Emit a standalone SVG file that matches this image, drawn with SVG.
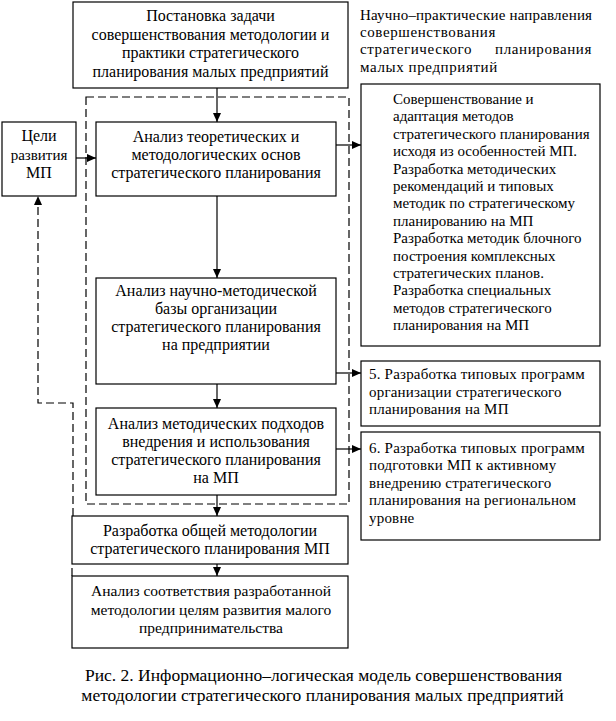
<svg xmlns="http://www.w3.org/2000/svg" width="616" height="721" viewBox="0 0 616 721">
<style>
.b{fill:#fff;stroke:#000;stroke-width:1.2}
.t{font-family:'Liberation Serif','Times New Roman',serif;font-size:15px;fill:#000}
.m{font-size:16px}
.h{letter-spacing:0.6px}
.c{text-anchor:middle}
.l{stroke:#000;stroke-width:1.2;fill:none}
.d{stroke:#000;stroke-width:1.2;fill:none;stroke-dasharray:8,4}
</style>
<defs>
<marker id="ah" markerWidth="9" markerHeight="8" refX="9" refY="4" orient="auto" markerUnits="userSpaceOnUse">
<path d="M0,0 L9,4 L0,8 Z" fill="#000"/>
</marker>
</defs>
<rect width="616" height="721" fill="#fff"/>
<g id="connectors">
<rect class="d" x="86" y="97" width="263" height="407"/>
<path class="d" d="M73,516 L73,403 L38,403 L38,200"/>
<path d="M38,196 L34,205 L42,205 Z" fill="#000"/>
<line class="l" x1="217" y1="88" x2="217" y2="122" marker-end="url(#ah)"/>
<line class="l" x1="76" y1="158" x2="96" y2="158" marker-end="url(#ah)"/>
<line class="l" x1="336" y1="145" x2="361" y2="145" marker-end="url(#ah)"/>
<line class="l" x1="217" y1="196" x2="217" y2="278" marker-end="url(#ah)"/>
<line class="l" x1="336" y1="373" x2="361" y2="373" marker-end="url(#ah)"/>
<line class="l" x1="217" y1="384" x2="217" y2="408" marker-end="url(#ah)"/>
<line class="l" x1="336" y1="449" x2="361" y2="449" marker-end="url(#ah)"/>
<line class="l" x1="217" y1="495" x2="217" y2="516" marker-end="url(#ah)"/>
<line class="l" x1="217" y1="564" x2="217" y2="576" marker-end="url(#ah)"/>
<line class="l" x1="72" y1="568" x2="72" y2="576"/>
</g>
<g id="n-top">
<rect class="b" x="73" y="2" width="275" height="86"/>
<text class="t m c" x="210.5" y="21">Постановка задачи</text>
<text class="t m c" x="210.5" y="39.5">совершенствования методологии и</text>
<text class="t m c" x="210.5" y="58">практики стратегического</text>
<text class="t m c" x="210.5" y="76.5">планирования малых предприятий</text>
</g>
<g id="n-heading">
<text class="t" x="360" y="20" textLength="232" lengthAdjust="spacing">Научно–практические направления</text>
<text class="t h" x="360" y="37">совершенствования</text>
<text class="t h" x="360" y="54">стратегического</text>
<text class="t h" x="592" y="54" text-anchor="end">планирования</text>
<text class="t h" x="360" y="72">малых предприятий</text>
</g>
<g id="n-goals">
<rect class="b" x="2" y="122" width="74" height="74"/>
<text class="t m c" x="39" y="141">Цели</text>
<text class="t c" x="39" y="160">развития</text>
<text class="t m c" x="39" y="178">МП</text>
</g>
<g id="n-a1">
<rect class="b" x="96" y="122" width="240" height="74"/>
<text class="t m c" x="216" y="141.5">Анализ теоретических и</text>
<text class="t m c" x="216" y="160">методологических основ</text>
<text class="t m c" x="216" y="178">стратегического планирования</text>
</g>
<g id="n-r1">
<rect class="b" x="361" y="84" width="239" height="262"/>
<text class="t" x="393" y="104">Совершенствование и</text>
<text class="t" x="393" y="121.4">адаптация методов</text>
<text class="t" x="393" y="138.8">стратегического планирования</text>
<text class="t" x="393" y="156.2">исходя из особенностей МП.</text>
<text class="t" x="393" y="173.6">Разработка методических</text>
<text class="t" x="393" y="191">рекомендаций и типовых</text>
<text class="t" x="393" y="208.4">методик по стратегическому</text>
<text class="t" x="393" y="225.8">планированию на МП</text>
<text class="t" x="393" y="243.2">Разработка методик блочного</text>
<text class="t" x="393" y="260.6">построения комплексных</text>
<text class="t" x="393" y="278">стратегических планов.</text>
<text class="t" x="393" y="295.4">Разработка специальных</text>
<text class="t" x="393" y="312.8">методов стратегического</text>
<text class="t" x="393" y="330.2">планирования на МП</text>
</g>
<g id="n-a2">
<rect class="b" x="96" y="278" width="240" height="106"/>
<text class="t m c" x="216" y="295.5">Анализ научно-методической</text>
<text class="t m c" x="216" y="313.5">базы организации</text>
<text class="t m c" x="216" y="331.5">стратегического планирования</text>
<text class="t m c" x="216" y="349.5">на предприятии</text>
</g>
<g id="n-r2">
<rect class="b" x="361" y="361" width="239" height="65"/>
<text class="t" x="369" y="379" letter-spacing="0.2">5. Разработка типовых программ</text>
<text class="t" x="369" y="396.5" letter-spacing="0.2">организации стратегического</text>
<text class="t" x="369" y="414" letter-spacing="0.2">планирования на МП</text>
</g>
<g id="n-a3">
<rect class="b" x="96" y="408" width="240" height="87"/>
<text class="t m c" x="216" y="428.5">Анализ методических подходов</text>
<text class="t m c" x="216" y="446.8">внедрения и использования</text>
<text class="t m c" x="216" y="465">стратегического планирования</text>
<text class="t m c" x="216" y="483.3">на МП</text>
</g>
<g id="n-r3">
<rect class="b" x="361" y="432" width="239" height="108"/>
<text class="t" x="369" y="452.5" letter-spacing="0.2">6. Разработка типовых программ</text>
<text class="t" x="369" y="470" letter-spacing="0.2">подготовки МП к активному</text>
<text class="t" x="369" y="487.5" letter-spacing="0.2">внедрению стратегического</text>
<text class="t" x="369" y="505" letter-spacing="0.2">планирования на региональном</text>
<text class="t" x="369" y="522.5" letter-spacing="0.2">уровне</text>
</g>
<g id="n-dev">
<rect class="b" x="72" y="516" width="276" height="48"/>
<text class="t m c" x="210" y="536">Разработка общей методологии</text>
<text class="t m c" x="210" y="554">стратегического планирования МП</text>
</g>
<g id="n-check">
<rect class="b" x="72" y="576" width="276" height="72"/>
<text class="t c" x="211" y="596" style="font-size:15.5px">Анализ соответствия разработанной</text>
<text class="t c" x="211" y="614.5" style="font-size:15.5px">методологии целям развития малого</text>
<text class="t c" x="211" y="633" style="font-size:15.5px">предпринимательства</text>
</g>
<g id="caption">
<text class="t c" x="323.5" y="681" style="font-size:17.5px">Рис. 2. Информационно–логическая модель совершенствования</text>
<text class="t c" x="322.5" y="701" style="font-size:17.5px">методологии стратегического планирования малых предприятий</text>
</g>
</svg>
